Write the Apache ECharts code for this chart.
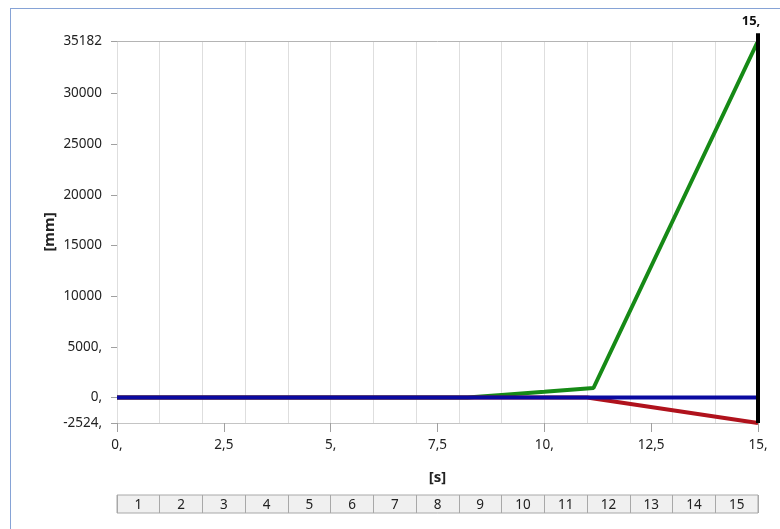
<!DOCTYPE html>
<html>
<head>
<meta charset="utf-8">
<script src="https://cdn.jsdelivr.net/npm/echarts@6.0.0/dist/echarts.min.js"></script>
<style>
  html, body { margin: 0; padding: 0; background: #fff; }
  #wrap { position: relative; width: 780px; height: 529px; }
  #chart { width: 780px; height: 529px; }
  #frame { position: absolute; left: 10px; top: 8px; right: 0; bottom: 0;
           border-top: 1px solid #86a3d6; border-left: 1px solid #86a3d6; pointer-events: none; }
</style>
</head>
<body>
<div id="wrap"><div id="chart"></div><div id="frame"></div></div>
<script>
// ---- data ----
const yTickValues = [-2524, 0, 5000, 10000, 15000, 20000, 25000, 30000, 35182];
const yTickLabels = ['-2524,', '0,', '5000,', '10000', '15000', '20000', '25000', '30000', '35182'];
const xTickValues = [0, 2.5, 5, 7.5, 10, 12.5, 15];
const xTickLabels = ['0,', '2,5', '5,', '7,5', '10,', '12,5', '15,'];
const stepLabels = ['1','2','3','4','5','6','7','8','9','10','11','12','13','14','15'];

const blueTime = [0, 15];
const blueVal  = [0, 0];
const greenTime = [0, 8.2, 9, 10, 11.15, 15];
const greenVal  = [0, 0, 250, 560, 930, 35182];
const redTime = [0, 11, 15];
const redVal  = [0, 0, -2524];
const cursorTime = 15;
const cursorLabel = '15,';
const cursorRange = [-2524, 35950];

const yMin = -2524, yMax = 35182;
const xMin = 0, xMax = 15;

const pairs = (t, v) => t.map((x, i) => [x, v[i]]);
const font = 'Noto Sans';
const fs = 13.5;

const chart = echarts.init(document.getElementById('chart'), null, { renderer: 'canvas' });
chart.setOption({
  animation: false,
  backgroundColor: '#ffffff',
  textStyle: { fontFamily: font },
  grid: [
    { left: 117, right: 22, top: 41, bottom: 106 },
    { left: 117, right: 22, top: 495, height: 18, show: true,
      backgroundColor: '#f0f0f0', borderColor: '#a8a8a8', borderWidth: 1 }
  ],
  xAxis: [
    { type: 'value', gridIndex: 0, min: xMin, max: xMax, interval: 2.5,
      name: '[s]', nameLocation: 'middle', nameGap: 47, nameMoveOverlap: false,
      nameTextStyle: { fontFamily: font, fontWeight: 'bold', fontSize: 15, color: '#222' },
      axisLine: { show: true, onZero: false, lineStyle: { color: '#c4c4c4', width: 1 } },
      axisTick: { show: true, length: 9, lineStyle: { color: '#a0a0a0' } },
      axisLabel: { margin: 15, fontSize: fs, color: '#222', fontFamily: font,
        formatter: v => { const i = xTickValues.indexOf(v); return i >= 0 ? xTickLabels[i] : ''; } },
      splitLine: { show: false } },
    { type: 'value', gridIndex: 0, min: xMin, max: xMax, interval: 1,
      axisLine: { show: false }, axisTick: { show: false }, axisLabel: { show: false },
      splitLine: { show: true, lineStyle: { color: '#dedede', width: 1 } } },
    { type: 'category', gridIndex: 1, data: stepLabels, boundaryGap: true,
      axisLine: { show: false }, axisTick: { show: false },
      axisLabel: { inside: true, margin: 1, fontSize: fs, color: '#222', fontFamily: font, interval: 0 },
      splitLine: { show: true, interval: 0, lineStyle: { color: '#a8a8a8', width: 1 } } }
  ],
  yAxis: [
    { type: 'value', gridIndex: 0, min: yMin, max: yMax,
      name: '[mm]', nameLocation: 'middle', nameGap: 60, nameRotate: 90, nameMoveOverlap: false,
      nameTextStyle: { fontFamily: font, fontWeight: 'bold', fontSize: 15, color: '#222' },
      axisLine: { show: false },
      axisTick: { show: true, length: 6, customValues: yTickValues, lineStyle: { color: '#a0a0a0' } },
      axisLabel: { margin: 15, fontSize: fs, color: '#222', fontFamily: font, customValues: yTickValues,
        formatter: v => { const i = yTickValues.indexOf(v); return i >= 0 ? yTickLabels[i] : ''; } },
      splitLine: { show: false } },
    { type: 'value', gridIndex: 1, show: false, min: 0, max: 1 }
  ],
  series: [
    { type: 'line', xAxisIndex: 0, yAxisIndex: 0, data: pairs(greenTime, greenVal),
      showSymbol: false, lineStyle: { color: '#168a16', width: 4 }, z: 3 },
    { type: 'line', xAxisIndex: 0, yAxisIndex: 0, data: pairs(redTime, redVal),
      showSymbol: false, lineStyle: { color: '#b0121c', width: 4 }, z: 3 },
    { type: 'line', xAxisIndex: 0, yAxisIndex: 0, data: pairs(blueTime, blueVal),
      showSymbol: false, lineStyle: { color: '#0a0aa0', width: 4 }, z: 4,
      markLine: { silent: true, symbol: 'none', label: { show: false },
        lineStyle: { color: '#b4b4b4', width: 1, type: 'solid' },
        data: [{ yAxis: yMax }] } },
    { type: 'line', xAxisIndex: 0, yAxisIndex: 0, clip: false, showSymbol: false,
      data: pairs([cursorTime, cursorTime], cursorRange),
      symbol: 'none',
      lineStyle: { color: '#000000', width: 4 }, z: 5,
      markPoint: { silent: true, symbol: 'circle', symbolSize: 1,
        itemStyle: { color: 'rgba(0,0,0,0)' },
        label: { show: true, formatter: cursorLabel, position: 'top', distance: 13,
          offset: [-7, 0], fontWeight: 'bold', fontSize: 13, color: '#111', fontFamily: font },
        data: [{ coord: [cursorTime, yMax] }] } }
  ]
});
</script>
</body>
</html>
